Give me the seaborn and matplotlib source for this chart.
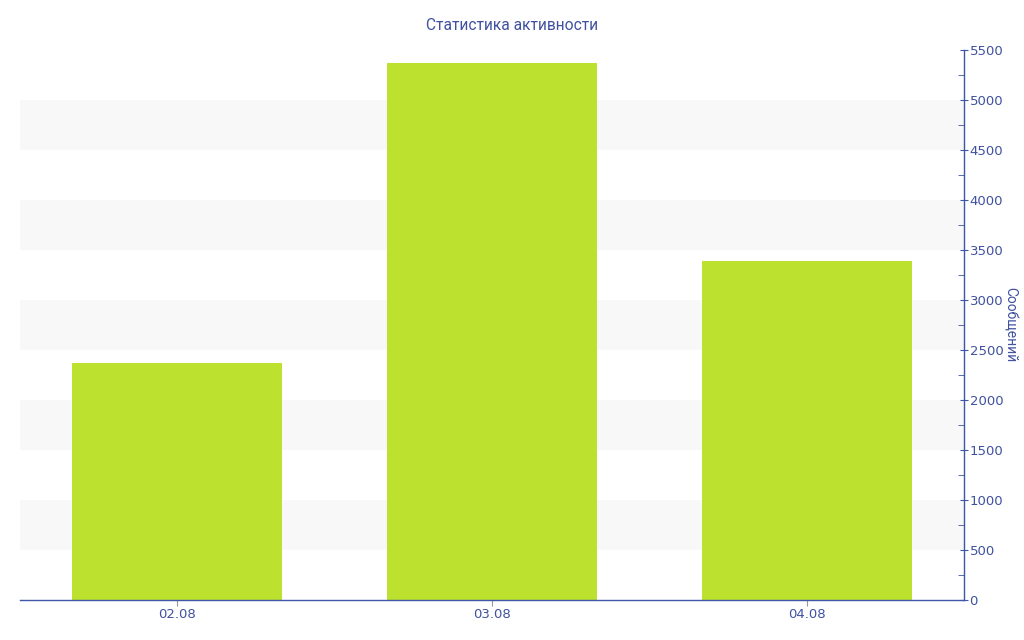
import matplotlib
matplotlib.use('Agg')
import matplotlib.pyplot as plt
import seaborn as sns
import pandas as pd
from matplotlib.ticker import MultipleLocator

# Data
dates = ['02.08', '03.08', '04.08']
messages = [2370, 5370, 3390]

df = pd.DataFrame({'date': dates, 'messages': messages})

sns.set_style('white')
plt.rcParams['font.family'] = ['DejaVu Sans']

axis_color = '#3d56a6'
text_color = '#3f51a0'
bar_color = '#bce12f'

fig = plt.figure(figsize=(10.24, 6.4), dpi=100)
ax = fig.add_axes([20 / 1024, 40 / 640, 944 / 1024, 550 / 640])

# Alternating bands
for lo in range(500, 5500, 1000):
    ax.axhspan(lo, lo + 500, color='#f8f8f8', zorder=0, lw=0)

sns.barplot(data=df, x='date', y='messages', color=bar_color, saturation=1,
            width=0.667, linewidth=0, ax=ax, zorder=2)

ax.set_ylim(0, 5500)
ax.set_xlim(-0.5, 2.5)
ax.yaxis.tick_right()
ax.yaxis.set_label_position('right')
ax.yaxis.set_major_locator(MultipleLocator(500))
ax.yaxis.set_minor_locator(MultipleLocator(250))

for side in ['top', 'left']:
    ax.spines[side].set_visible(False)
ax.spines['right'].set_color(axis_color)
ax.spines['bottom'].set_color(axis_color)
ax.spines['right'].set_linewidth(1)
ax.spines['bottom'].set_linewidth(1)

ax.tick_params(axis='y', which='major', direction='inout', length=6, color=axis_color,
               labelcolor=text_color, labelsize=9.5, pad=1, right=True, left=False)
ax.tick_params(axis='y', which='minor', direction='in', length=4, color=axis_color,
               right=True, left=False)
ax.tick_params(axis='x', which='major', direction='out', length=4, color='#999999',
               labelcolor=text_color, labelsize=9.5, pad=2, bottom=True)

ax.set_xlabel('')
ax.set_ylabel('Сообщений', color=text_color, fontsize=10, rotation=270, labelpad=10,
              family='Roboto')
fig.suptitle('Статистика активности', color=text_color, fontsize=11.2, y=0.972,
             family='Roboto')

fig.savefig('out.png', dpi=100)
